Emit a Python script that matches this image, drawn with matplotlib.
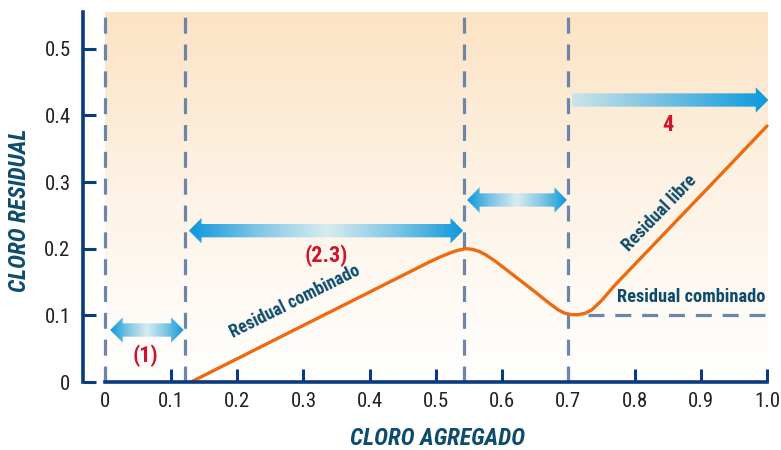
import numpy as np
import matplotlib
matplotlib.use('Agg')
import matplotlib.pyplot as plt
from matplotlib import font_manager
from matplotlib.patches import Polygon
from matplotlib.colors import LinearSegmentedColormap

# data
curve_x = [0.13, 0.20, 0.30, 0.40, 0.47, 0.49, 0.505, 0.515, 0.525, 0.535, 0.545, 0.555, 0.565, 0.575, 0.59, 0.62, 0.65, 0.67,
           0.685, 0.695, 0.705, 0.715, 0.725, 0.735, 0.75, 0.77, 0.85, 0.93, 1.0]
curve_y = [0.0, 0.035, 0.085, 0.135, 0.170, 0.180, 0.187, 0.191, 0.195, 0.198, 0.200, 0.199, 0.196, 0.191, 0.181, 0.158, 0.135, 0.119,
           0.108, 0.103, 0.101, 0.101, 0.103, 0.108, 0.122, 0.145, 0.228, 0.311, 0.384]
vlines_x = [0.0, 0.121, 0.542, 0.699]
hline_y = 0.1
hline_x = [0.73, 1.0]
xticks = [0, 0.1, 0.2, 0.3, 0.4, 0.5, 0.6, 0.7, 0.8, 0.9, 1.0]
xtick_labels = ['0', '0.1', '0.2', '0.3', '0.4', '0.5', '0.6', '0.7', '0.8', '0.9', '1.0']
yticks = [0, 0.1, 0.2, 0.3, 0.4, 0.5]
ytick_labels = ['0', '0.1', '0.2', '0.3', '0.4', '0.5']
# arrows: (start, end, y, double)
arrows = [(0.008, 0.119, 0.078, True),
          (0.127, 0.541, 0.227, True),
          (0.547, 0.698, 0.273, True),
          (0.705, 1.002, 0.423, False)]
zone_labels = ['(1)', '(2.3)', '4']
zone_pos = [(0.062, 0.040), (0.335, 0.190), (0.85, 0.386)]

# pick a condensed face if one is around
family, stretch = 'DejaVu Sans', 'normal'
for fam, st in [('Liberation Sans Narrow', 'normal'), ('Roboto Condensed', 'normal'), ('DejaVu Sans', 'condensed')]:
    try:
        f = font_manager.findfont(font_manager.FontProperties(family=fam, stretch=st), fallback_to_default=False)
        if fam != 'DejaVu Sans' or 'Condensed' in f:
            family, stretch = fam, st
            break
    except Exception:
        pass
plt.rcParams['font.family'] = [family, 'DejaVu Sans']
plt.rcParams['font.stretch'] = stretch
narrow = stretch == 'condensed' or family != 'DejaVu Sans'
k = 1.0 if narrow else 0.88

navy = '#0B3A82'
dash_col = '#6C86AA'
text_col = '#0E4C6E'
red = '#D0142C'

fig = plt.figure(figsize=(7.81, 4.5), dpi=100)
x_lo, x_hi = -0.033, 1.003
y_lo, y_hi = 0.0, 0.555
left = 83 / 781
width = (105 + x_hi * 662 - 83) / 781
ax = fig.add_axes([left, 68 / 450, width, 370 / 450])
ax.set_xlim(x_lo, x_hi)
ax.set_ylim(y_lo, y_hi)
ax.patch.set_alpha(0)

# background gradient
bg = LinearSegmentedColormap.from_list('bg', ['#FFFFFF', '#FDF3E6', '#FCE3C4'])
ax.imshow(np.linspace(0, 1, 256).reshape(-1, 1), extent=(0, 1.0, 0, y_hi),
          origin='lower', cmap=bg, aspect='auto', zorder=0)

# dashed guides
for xv in vlines_x:
    ax.plot([xv, xv], [0, y_hi], color=dash_col, lw=2.3, dashes=(5, 3.4), zorder=2)
ax.plot(hline_x, [hline_y, hline_y], color=dash_col, lw=2.3, dashes=(5, 3.4), zorder=2)

# main curve
ax.plot(curve_x, curve_y, color='#EE6A10', lw=2.4, zorder=3, solid_capstyle='round', solid_joinstyle='round')

# gradient arrows
dbl_cmap = LinearSegmentedColormap.from_list('dbl', ['#0E98DA', '#7FC6E6', '#D8ECEE', '#7FC6E6', '#0E98DA'])
one_cmap = LinearSegmentedColormap.from_list('one', ['#CBE5E8', '#6DBDE2', '#0A9ADB'])
sh, hh, hl = 0.010, 0.019, 0.019
for x0, x1, y, double in arrows:
    if double:
        verts = [(x0, y), (x0 + hl, y + hh), (x0 + hl, y + sh), (x1 - hl, y + sh), (x1 - hl, y + hh),
                 (x1, y), (x1 - hl, y - hh), (x1 - hl, y - sh), (x0 + hl, y - sh), (x0 + hl, y - hh)]
        cm = dbl_cmap
    else:
        verts = [(x0, y + sh), (x1 - hl, y + sh), (x1 - hl, y + hh), (x1, y),
                 (x1 - hl, y - hh), (x1 - hl, y - sh), (x0, y - sh)]
        cm = one_cmap
    patch = Polygon(verts, closed=True, facecolor='none', edgecolor='none', transform=ax.transData)
    ax.add_patch(patch)
    im = ax.imshow(np.linspace(0, 1, 256).reshape(1, -1), extent=(x0, x1, y - hh, y + hh),
                   cmap=cm, aspect='auto', zorder=4)
    im.set_clip_path(patch)

ax.set_xlim(x_lo, x_hi)
ax.set_ylim(y_lo, y_hi)

for lab, (tx, ty) in zip(zone_labels, zone_pos):
    ax.text(tx, ty, lab, color=red, fontsize=16 * k, fontweight='bold', ha='center', va='center', zorder=5)

ax.text(0.287, 0.120, 'Residual combinado', color=text_col, fontsize=12.8 * k, fontweight='bold',
        rotation=26.5, ha='center', va='center', rotation_mode='anchor', zorder=5)
ax.text(0.838, 0.254, 'Residual libre', color=text_col, fontsize=13 * k, fontweight='bold',
        rotation=46, ha='center', va='center', rotation_mode='anchor', zorder=5)
ax.text(0.885, 0.127, 'Residual combinado', color=text_col, fontsize=13.2 * k if narrow else 9.6,
        fontweight='bold', ha='center', va='center', zorder=5)

# axes styling
for s in ['top', 'right']:
    ax.spines[s].set_visible(False)
for s in ['left', 'bottom']:
    ax.spines[s].set_color(navy)
    ax.spines[s].set_linewidth(2.6)
    ax.spines[s].set_zorder(6)
ax.spines['bottom'].set_bounds(0, 1.0)
ax.spines['left'].set_bounds(0, y_hi)

ax.set_xticks(xticks)
ax.set_xticklabels(xtick_labels)
ax.set_yticks(yticks)
ax.set_yticklabels(ytick_labels)
ax.tick_params(direction='in', length=9.5, width=2.2, color=navy, labelsize=15 * k,
               labelcolor='#222222')
ax.tick_params(axis='x', pad=7)
ax.tick_params(axis='y', pad=9)

ax.set_xlabel('CLORO AGREGADO', color=text_col, fontsize=17 * k, fontweight='bold',
              fontstyle='italic')
ax.set_ylabel('CLORO RESIDUAL', color=text_col, fontsize=17 * k, fontweight='bold',
              fontstyle='italic')
ax.yaxis.set_label_coords(-(83 - 31) / (width * 781), 0.465)
ax.xaxis.set_label_coords((438 - 83) / (width * 781), -45 / 370)

fig.savefig('out.png', dpi=100)
